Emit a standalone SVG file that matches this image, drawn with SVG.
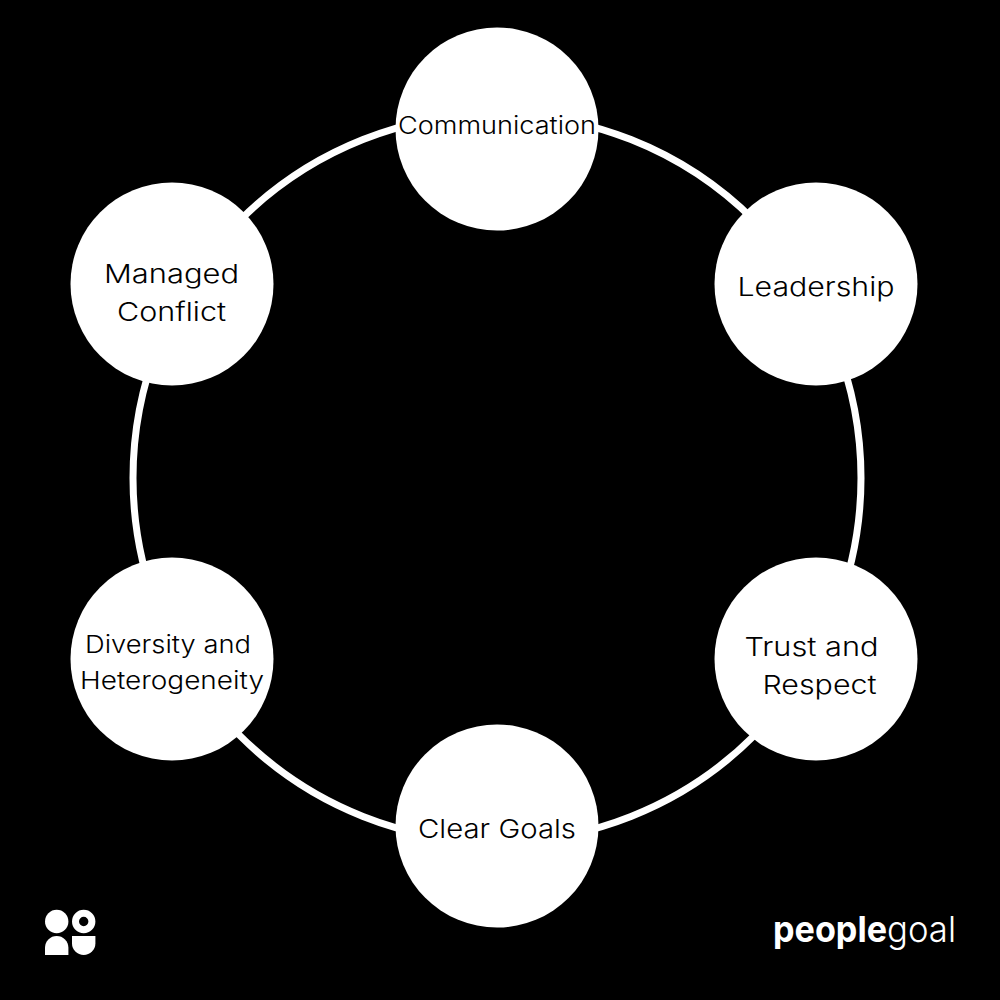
<svg xmlns="http://www.w3.org/2000/svg" width="1000" height="1000" viewBox="0 0 1000 1000">
<style>
.n{fill:#fff}
.t{font-family:"Inter","Noto Sans","Liberation Sans",sans-serif;font-size:26px;font-weight:300;fill:#000;text-anchor:middle}
.s{font-size:24px}
.b{font-family:"Inter","Liberation Sans",sans-serif;font-size:36px;fill:#fff}
</style>
<rect width="1000" height="1000" fill="#000"/>
<g id="connectors"><circle cx="497" cy="478" r="364" fill="none" stroke="#fff" stroke-width="7"/></g>
<g id="node-communication"><circle class="n" cx="497" cy="129" r="101.5"/><text class="t s" x="497" y="134" textLength="198" lengthAdjust="spacingAndGlyphs">Communication</text></g>
<g id="node-leadership"><circle class="n" cx="816" cy="284" r="101.5"/><text class="t" x="816" y="296" textLength="157" lengthAdjust="spacingAndGlyphs">Leadership</text></g>
<g id="node-trust"><circle class="n" cx="816" cy="659" r="101.5"/><text class="t" x="811.5" y="656" textLength="134" lengthAdjust="spacingAndGlyphs">Trust and</text><text class="t" x="819.5" y="694" textLength="114" lengthAdjust="spacingAndGlyphs">Respect</text></g>
<g id="node-goals"><circle class="n" cx="497" cy="826" r="101.5"/><text class="t" x="497" y="838" textLength="158" lengthAdjust="spacingAndGlyphs">Clear Goals</text></g>
<g id="node-diversity"><circle class="n" cx="172" cy="659" r="101.5"/><text class="t s" x="168" y="653" textLength="166" lengthAdjust="spacingAndGlyphs">Diversity and</text><text class="t s" x="172" y="689" textLength="184" lengthAdjust="spacingAndGlyphs">Heterogeneity</text></g>
<g id="node-conflict"><circle class="n" cx="172" cy="284" r="101.5"/><text class="t" x="171.5" y="283" textLength="135" lengthAdjust="spacingAndGlyphs">Managed</text><text class="t" x="171.5" y="321" textLength="109" lengthAdjust="spacingAndGlyphs">Conflict</text></g>
<g id="logo-mark" fill="#fff">
<circle cx="56.7" cy="921.5" r="11.7"/>
<path fill-rule="evenodd" d="M72 921.5a11.7 11.7 0 1 0 23.4 0a11.7 11.7 0 1 0 -23.4 0zM79 921.5a4.7 4.7 0 1 1 9.4 0a4.7 4.7 0 1 1 -9.4 0z"/>
<path d="M45 955V947.7a11.7 11.7 0 0 1 23.4 0V955z"/>
<path d="M72 936H95.4V943.3a11.7 11.7 0 0 1 -23.4 0z"/>
</g>
<g id="logo-word"><text class="b" x="773" y="942" font-weight="700" textLength="114" lengthAdjust="spacingAndGlyphs">people</text><text class="b" x="887" y="942" font-weight="300" textLength="69" lengthAdjust="spacingAndGlyphs">goal</text></g>
</svg>
